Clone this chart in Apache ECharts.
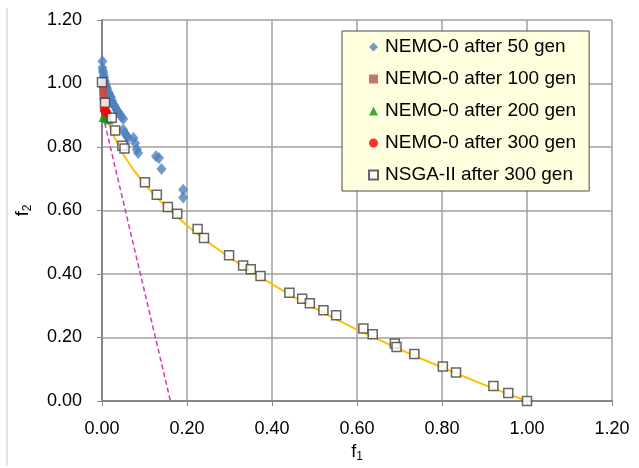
<!DOCTYPE html>
<html>
<head>
<meta charset="utf-8">
<script src="https://cdn.jsdelivr.net/npm/echarts@6/dist/echarts.min.js"></script>
<style>html,body{margin:0;padding:0;background:#fff;}#c{width:639px;height:468px;}</style>
</head>
<body>
<div id="c"></div>
<script>
// ---- data ----
const xTickLabels = ['0.00','0.20','0.40','0.60','0.80','1.00','1.20'];
const yTickLabels = ['0.00','0.20','0.40','0.60','0.80','1.00','1.20'];

const nemo50X = [0.001,0.001,0.002,0.003,0.004,0.005,0.006,0.007,0.009,0.010,0.012,0.014,0.015,0.018,0.020,0.021,0.024,0.027,0.029,0.031,0.035,0.038,0.042,0.046,0.050,0.050,0.054,0.058,0.062,0.074,0.078,0.082,0.085,0.127,0.134,0.140,0.191,0.191];
const nemo50Y = [1.070,1.050,1.040,1.035,1.025,1.020,1.010,1.005,0.995,0.990,0.985,0.975,0.970,0.965,0.958,0.955,0.945,0.935,0.930,0.925,0.916,0.910,0.903,0.895,0.888,0.854,0.843,0.835,0.828,0.828,0.812,0.792,0.781,0.771,0.765,0.731,0.665,0.641];

const nemo100X = [0.002,0.003,0.003,0.004,0.004,0.005,0.006,0.006,0.007,0.008,0.009,0.010,0.011];
const nemo100Y = [0.995,0.985,0.975,0.965,0.955,0.948,0.940,0.932,0.922,0.912,0.905,0.898,0.893];

const nemo200X = [0.002,0.010,0.017];
const nemo200Y = [0.893,0.889,0.885];

const nemo300X = [0.005,0.008,0.012];
const nemo300Y = [0.917,0.912,0.907];

const nsgaX = [0.000,0.007,0.023,0.031,0.048,0.053,0.101,0.129,0.155,0.177,0.225,0.240,0.299,0.332,0.350,0.373,0.441,0.471,0.489,0.521,0.551,0.615,0.637,0.689,0.693,0.735,0.802,0.833,0.921,0.956,1.000];
const nsgaY = [1.004,0.939,0.892,0.852,0.804,0.795,0.689,0.650,0.611,0.590,0.542,0.513,0.459,0.427,0.415,0.394,0.341,0.322,0.308,0.286,0.270,0.228,0.210,0.181,0.170,0.148,0.109,0.090,0.047,0.025,0.000];

// yellow reference front line
const frontX = [0.010,0.020,0.030,0.050,0.075,0.100,0.125,0.150,0.200,0.250,0.300,0.350,0.400,0.450,0.500,0.550,0.600,0.650,0.700,0.750,0.800,0.850,0.900,0.950,1.000];
const frontY = [0.900,0.860,0.828,0.777,0.726,0.684,0.646,0.613,0.553,0.500,0.452,0.408,0.368,0.329,0.293,0.258,0.225,0.194,0.163,0.134,0.106,0.078,0.051,0.025,0.000];

// magenta dashed line
const dashX = [0.002,0.161];
const dashY = [0.900,0.000];

const seriesNames = ['NEMO-0 after 50 gen','NEMO-0 after 100 gen','NEMO-0 after 200 gen','NEMO-0 after 300 gen','NSGA-II after 300 gen'];

const zip = (a,b) => a.map((v,i)=>[v,b[i]]);
const FONT = '"Liberation Sans", Arial, sans-serif';

const chart = echarts.init(document.getElementById('c'), null, {renderer:'canvas'});
chart.setOption({
  animation:false,
  backgroundColor:'#ffffff',
  textStyle:{fontFamily:FONT},
  grid:{left:102,right:27,top:20,bottom:61,containLabel:false},
  xAxis:{
    type:'value',min:0,max:1.2,interval:0.2,
    name:'{a|f}{b|1}',nameLocation:'middle',nameGap:40,
    nameTextStyle:{rich:{a:{fontSize:18,fontFamily:FONT,color:'#000'},b:{fontSize:12,fontFamily:FONT,color:'#000',padding:[10,0,0,0]}}},
    axisLine:{show:true,onZero:false,lineStyle:{color:'#868686',width:2}},
    axisTick:{show:true,inside:false,length:5,lineStyle:{color:'#868686',width:1}},
    axisLabel:{margin:19,fontSize:18,color:'#000',fontFamily:FONT,formatter:(v)=>xTickLabels[Math.round(v/0.2)]},
    splitLine:{show:true,lineStyle:{color:'#a0a0a0',width:1.5}}
  },
  yAxis:{
    type:'value',min:0,max:1.2,interval:0.2,
    name:'{a|f}{b|2}',nameLocation:'middle',nameGap:68,nameRotate:90,
    nameTextStyle:{rich:{a:{fontSize:18,fontFamily:FONT,color:'#000'},b:{fontSize:12,fontFamily:FONT,color:'#000',padding:[10,0,0,0]}}},
    axisLine:{show:true,onZero:false,lineStyle:{color:'#868686',width:2}},
    axisTick:{show:true,inside:false,length:5,lineStyle:{color:'#868686',width:1}},
    axisLabel:{margin:20,fontSize:18,color:'#000',fontFamily:FONT,formatter:(v)=>yTickLabels[Math.round(v/0.2)]},
    splitLine:{show:true,lineStyle:{color:'#a0a0a0',width:1.5}}
  },
  legend:{
    data:seriesNames,
    orient:'vertical',left:342,top:31,
    padding:[6,13,6,26],
    itemWidth:9,itemHeight:9,itemGap:12,
    backgroundColor:'#ffffe0',borderColor:'#4a4a4a',borderWidth:1,
    textStyle:{fontSize:19,fontFamily:FONT,color:'#000',lineHeight:20,padding:[0,0,0,2]}
  },
  graphic:[{type:'line',shape:{x1:7,y1:8,x2:7,y2:466},style:{stroke:'#c8c8c8',lineWidth:1},silent:true}],
  series:[
    {type:'line',name:'front',data:zip(frontX,frontY),showSymbol:false,symbol:'none',lineStyle:{color:'#FFC000',width:2},z:1,silent:true},
    {type:'line',name:'dash',data:zip(dashX,dashY),showSymbol:false,symbol:'none',lineStyle:{color:'#D63AB5',width:1.5,type:[5,3]},z:1,silent:true},
    {type:'scatter',name:seriesNames[0],data:zip(nemo50X,nemo50Y),symbol:'diamond',symbolSize:[10,12],itemStyle:{color:'#4F81BD'},z:2},
    {type:'scatter',name:seriesNames[1],data:zip(nemo100X,nemo100Y),symbol:'rect',symbolSize:8,itemStyle:{color:'#C0504D'},z:3},
    {type:'scatter',name:seriesNames[2],data:zip(nemo200X,nemo200Y),symbol:'triangle',symbolSize:9,itemStyle:{color:'#0A9A0A'},z:4},
    {type:'scatter',name:seriesNames[3],data:zip(nemo300X,nemo300Y),symbol:'circle',symbolSize:9,itemStyle:{color:'#FF0000'},z:5},
    {type:'scatter',name:seriesNames[4],data:zip(nsgaX,nsgaY),symbol:'rect',symbolSize:9,itemStyle:{color:'#ffffff',borderColor:'#404040',borderWidth:1.5},z:6}
  ]
});
</script>
</body>
</html>
